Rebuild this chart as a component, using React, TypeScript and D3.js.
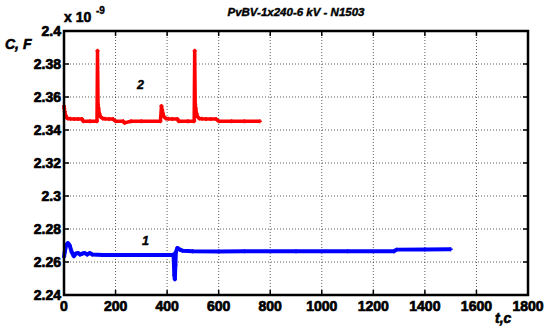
import React from "react";
import * as d3 from "d3";

const title = "PvBV-1x240-6 kV - N1503";
const xTicks = [0, 200, 400, 600, 800, 1000, 1200, 1400, 1600, 1800];
const yTicks = [2.24, 2.26, 2.28, 2.3, 2.32, 2.34, 2.36, 2.38, 2.4];

// Series 2 (red): time (s), capacitance (x1e-9 F)
const redT = [0, 1, 3, 6, 10, 15, 25, 40, 55, 70, 75, 100, 128, 130, 132, 134, 137, 142, 150, 160, 175, 190, 200, 230, 235, 260, 300, 374, 378, 381, 384, 388, 395, 405, 420, 440, 445, 480, 505, 507, 509, 511, 514, 518, 525, 535, 550, 570, 590, 600, 650, 700, 760];
const redC = [2.3545, 2.353, 2.351, 2.349, 2.3475, 2.347, 2.3468, 2.3466, 2.3466, 2.3466, 2.3453, 2.3453, 2.3453, 2.388, 2.3555, 2.353, 2.35, 2.348, 2.347, 2.3468, 2.3466, 2.3466, 2.3453, 2.3453, 2.3443, 2.3453, 2.3453, 2.3453, 2.3545, 2.352, 2.35, 2.348, 2.347, 2.3468, 2.3466, 2.3466, 2.3453, 2.3453, 2.3453, 2.388, 2.3555, 2.353, 2.35, 2.348, 2.347, 2.3468, 2.3466, 2.3466, 2.3466, 2.3453, 2.3453, 2.3453, 2.3453];

// Series 1 (blue)
const blueT = [0, 3, 8, 15, 22, 30, 38, 45, 55, 62, 70, 80, 90, 100, 110, 150, 250, 350, 420, 425, 428, 430, 432, 434, 440, 450, 460, 500, 600, 700, 900, 1100, 1280, 1290, 1400, 1500];
const blueC = [2.263, 2.266, 2.27, 2.2715, 2.27, 2.266, 2.2635, 2.265, 2.2655, 2.2645, 2.265, 2.2655, 2.2645, 2.2655, 2.2645, 2.2642, 2.2642, 2.2642, 2.2642, 2.2645, 2.252, 2.2495, 2.258, 2.266, 2.2685, 2.2675, 2.2668, 2.2665, 2.2663, 2.2665, 2.2665, 2.2665, 2.2665, 2.2675, 2.2676, 2.2678];

const W = 545, H = 334;
const L = 64, R = 528, T = 31, B = 295;

export default function App() {
  const x = d3.scaleLinear().domain([0, 1800]).range([L, R]);
  const y = d3.scaleLinear().domain([2.24, 2.4]).range([B, T]);
  const line = d3.line<[number, number]>().x(d => x(d[0])).y(d => y(d[1]));
  const red: [number, number][] = redT.map((t, i) => [t, redC[i]]);
  const blue: [number, number][] = blueT.map((t, i) => [t, blueC[i]]);
  const font = "Arial, 'Liberation Sans', Helvetica, sans-serif";
  const bold: React.CSSProperties = { fontWeight: 700, fontFamily: font };
  const bi: React.CSSProperties = { fontWeight: 700, fontStyle: "italic", fontFamily: font };
  return (
    <svg width={W} height={H} style={{ position: "absolute", left: 0, top: 0, background: "#fff" }}>
      <rect x={0} y={0} width={W} height={H} fill="#fff" />
      {xTicks.slice(1, -1).map(t => (
        <line key={"gx" + t} x1={x(t)} x2={x(t)} y1={T} y2={B} stroke="#333" strokeWidth={0.8} strokeDasharray="1,2" />
      ))}
      {yTicks.slice(1, -1).map(t => (
        <line key={"gy" + t} x1={L} x2={R} y1={y(t)} y2={y(t)} stroke="#333" strokeWidth={0.8} strokeDasharray="1,2" />
      ))}
      {xTicks.map(t => (
        <g key={"tx" + t}>
          <line x1={x(t)} x2={x(t)} y1={B} y2={B - 5} stroke="#000" strokeWidth={1.5} />
          <line x1={x(t)} x2={x(t)} y1={T} y2={T + 5} stroke="#000" strokeWidth={1.5} />
          <text x={x(t)} y={311} textAnchor="middle" fontSize={14} style={bold} stroke="#000" strokeWidth={0.7}>{t}</text>
        </g>
      ))}
      {yTicks.map(t => (
        <g key={"ty" + t}>
          <line x1={L} x2={L + 5} y1={y(t)} y2={y(t)} stroke="#000" strokeWidth={1.5} />
          <line x1={R} x2={R - 5} y1={y(t)} y2={y(t)} stroke="#000" strokeWidth={1.5} />
          <text x={61} y={y(t) + 5} textAnchor="end" fontSize={14} style={bold} stroke="#000" strokeWidth={0.7}>{String(+t.toFixed(2))}</text>
        </g>
      ))}
      <path d={line(red) || ""} fill="none" stroke="#ff0000" strokeWidth={3.5} strokeLinejoin="round" />
      {red.map((d, i) => (
        <path key={"rm" + i} d={`M${x(d[0]) - 2},${y(d[1])}h4M${x(d[0])},${y(d[1]) - 2}v4`} stroke="#ff0000" strokeWidth={1.5} />
      ))}
      <path d={line(blue) || ""} fill="none" stroke="#0000ff" strokeWidth={4} strokeLinejoin="round" />
      {blue.map((d, i) => (
        <path key={"bm" + i} d={`M${x(d[0]) - 2},${y(d[1])}h4M${x(d[0])},${y(d[1]) - 2}v4`} stroke="#0000ff" strokeWidth={1.5} />
      ))}
      <rect x={L} y={T} width={R - L} height={B - T} fill="none" stroke="#000" strokeWidth={2.5} />
      <text x={296} y={16} textAnchor="middle" fontSize={11.5} style={bi} stroke="#000" strokeWidth={0.4}>{title}</text>
      <text x={64} y={22} fontSize={14} style={bold} stroke="#000" strokeWidth={0.6}>x 10</text>
      <text x={96} y={14} fontSize={10} style={bold} stroke="#000" strokeWidth={0.4}>-9</text>
      <text x={5} y={49} fontSize={14} style={bi} stroke="#000" strokeWidth={0.6}>C, F</text>
      <text x={495} y={323} fontSize={14} style={bi} stroke="#000" strokeWidth={0.6}>t,c</text>
      <text x={137} y={89} fontSize={12.5} style={bi} stroke="#000" strokeWidth={0.4}>2</text>
      <text x={142} y={245} fontSize={12.5} style={bi} stroke="#000" strokeWidth={0.4}>1</text>
    </svg>
  );
}
